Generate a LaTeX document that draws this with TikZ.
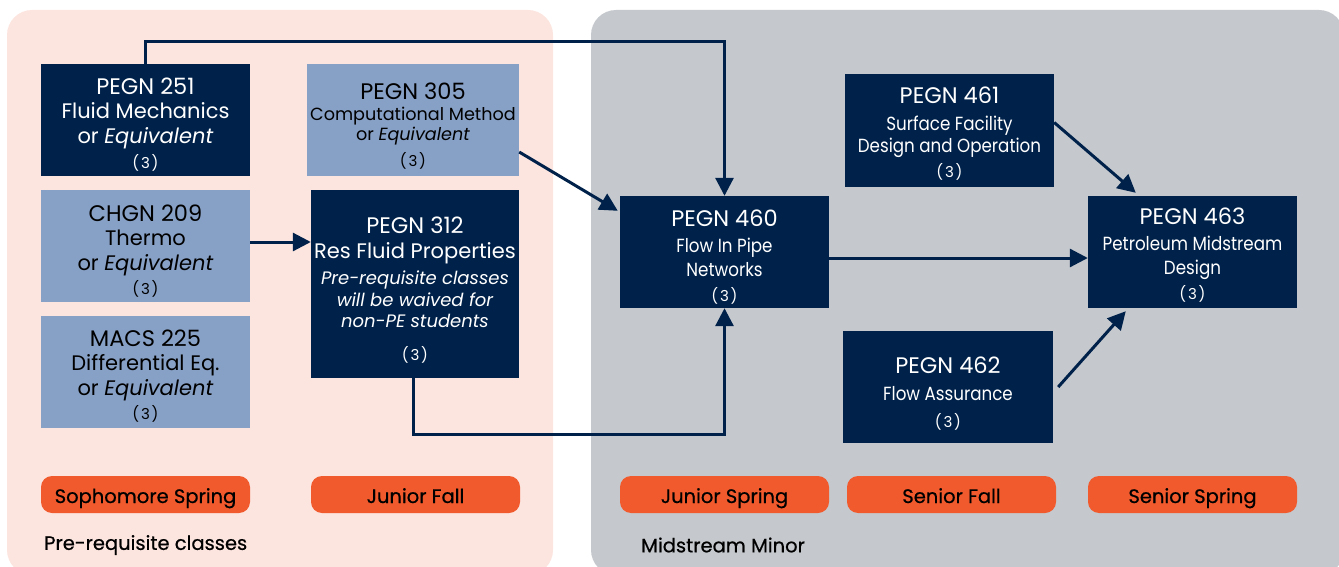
\documentclass[tikz,border=0pt]{standalone}
\usepackage{fontspec}
\setmainfont{Poppins}
\newfontfamily\narrowfont[FakeStretch=0.88]{Poppins}
\newfontfamily\medfont[FakeBold=0.6]{Poppins}
\usetikzlibrary{arrows.meta}
\definecolor{navyc}{HTML}{00224A}
\definecolor{lightc}{HTML}{87A0C5}
\definecolor{pinkc}{HTML}{FCE4DF}
\definecolor{grayc}{HTML}{C5C8CD}
\definecolor{orangec}{HTML}{F15A2C}
\newcommand{\ttl}{\fontsize{22.5}{24.5}\selectfont}
\newcommand{\scd}{\fontsize{21}{24.5}\selectfont}
\newcommand{\sub}{\fontsize{19}{24.5}\selectfont}
\newcommand{\num}{\fontsize{15}{18}\selectfont\addfontfeature{LetterSpace=12}}
\newcommand{\itl}{\fontsize{18}{21.5}\selectfont\itshape}
\begin{document}
\begin{tikzpicture}[x=1pt,y=-1pt,
  box/.style={rectangle, minimum width=209pt, minimum height=112pt, inner sep=0pt},
  navybox/.style={box, fill=navyc},
  lightbox/.style={box, fill=lightc},
  txt/.style={inner sep=0pt, align=center, font=\scd},
  wtxt/.style={txt, text=white},
  btxt/.style={txt, text=black},
  pill/.style={rectangle, rounded corners=11pt, fill=orangec, minimum width=209pt, minimum height=37pt, inner sep=0pt, text height=17pt, text depth=0pt, font=\medfont\fontsize{19.5}{22}\selectfont, text=black},
  lbl/.style={anchor=west, inner sep=0pt, font=\medfont\fontsize{19.5}{22}\selectfont, text=black},
  arr/.style={draw=navyc, line width=3pt, -{Triangle[length=18pt,width=18pt]}}]
\useasboundingbox (0,0) rectangle (1339,567);
\clip (0,0) rectangle (1339,567);
\fill[pinkc, rounded corners=25pt] (7,10) rectangle (553,575);
\fill[grayc, rounded corners=25pt] (591,10) rectangle (1344,575);

% boxes
\node[navybox] (p251) at (145.5,120) {};
\node[lightbox, minimum width=212pt] (p305) at (413,120) {};
\node[lightbox] (c209) at (145.5,246) {};
\node[lightbox] (m225) at (145.5,372) {};
\node[navybox, minimum width=208pt, minimum height=188pt] (p312) at (415,284) {};
\node[navybox] (p460) at (724.5,252) {};
\node[navybox, minimum height=113pt] (p461) at (949.5,130.5) {};
\node[navybox, minimum width=210pt] (p462) at (948,387) {};
\node[navybox] (p463) at (1192.5,252) {};

% texts
\node[wtxt] (t251) at ([yshift=-4.5pt]p251.center) {{\ttl PEGN 251}\\Fluid Mechanics\\or \textit{Equivalent}\\[1pt]{\num (3)}};
\node[btxt] (t305) at ([yshift=-6pt]p305.center) {{\ttl PEGN 305}\\[-3pt]{\fontsize{17.6}{20}\selectfont Computational Method}\\[-5pt]{\fontsize{17.6}{20}\selectfont or \textit{Equivalent}}\\[2pt]{\num (3)}};
\node[btxt] (t209) at ([yshift=-5pt]c209.center) {{\ttl CHGN 209}\\Thermo\\or \textit{Equivalent}\\[0pt]{\num (3)}};
\node[btxt] (t225) at ([yshift=-4pt]m225.center) {{\ttl MACS 225}\\Differential Eq.\\or \textit{Equivalent}\\[0pt]{\num (3)}};
\node[wtxt] (t312) at ([yshift=-6pt]p312.center) {{\ttl PEGN 312}\\Res Fluid Properties\\[2pt]\itl Pre-requisite classes\\[-3pt]\itl will be waived for\\[-3pt]\itl non-PE students\\[8pt]\upshape\num (3)};
\node[wtxt] (t460) at ([yshift=-5pt]p460.center) {{\ttl PEGN 460}\\[1pt]{\narrowfont\sub Flow In Pipe}\\{\narrowfont\sub Networks}\\{\num (3)}};
\node[wtxt] (t461) at ([yshift=-3pt]p461.center) {{\ttl PEGN 461}\\[2pt]{\narrowfont\sub Surface Facility}\\[-2pt]{\narrowfont\sub Design and Operation}\\{\num (3)}};
\node[wtxt] (t462) at ([yshift=-7pt]p462.center) {{\ttl PEGN 462}\\[2pt]{\narrowfont\sub Flow Assurance}\\[3pt]{\num (3)}};
\node[wtxt] (t463) at ([yshift=-3pt]p463.center) {{\ttl PEGN 463}\\[1pt]{\narrowfont\sub Petroleum Midstream}\\{\narrowfont\sub Design}\\{\num (3)}};

% semesters
\node[pill] (s1) at (145.5,494.5) {Sophomore Spring};
\node[pill] (s2) at (415.5,494.5) {Junior Fall};
\node[pill] (s3) at (724.5,494.5) {Junior Spring};
\node[pill] (s4) at (951.5,494.5) {Senior Fall};
\node[pill] (s5) at (1192.5,494.5) {Senior Spring};

\node[lbl] (lp) at (44,545) {Pre-requisite classes};
\node[lbl] (lm) at (641,545) {Midstream Minor};

% connectors
\draw[arr] (p251.north) -- ++(0,-22) -| (p460.north);
\draw[arr] ([yshift=-32pt]p305.east) -- ([xshift=-2pt,yshift=-15pt]p460.north west);
\draw[arr] ([yshift=4pt]c209.east) -- ([yshift=4pt]p312.west |- c209.east);
\draw[arr] ([xshift=-2pt]p312.south) -- ++(0,56) -| (p460.south);
\draw[arr] ([yshift=-6pt]p460.east) -- ([yshift=-6pt]p463.west);
\draw[arr] ([yshift=8pt]p461.east) -- ([xshift=48pt,yshift=3pt]p463.north west);
\draw[arr] ([xshift=5pt]p462.east) -- ([xshift=38pt,yshift=-3pt]p463.south west);
\end{tikzpicture}
\end{document}
